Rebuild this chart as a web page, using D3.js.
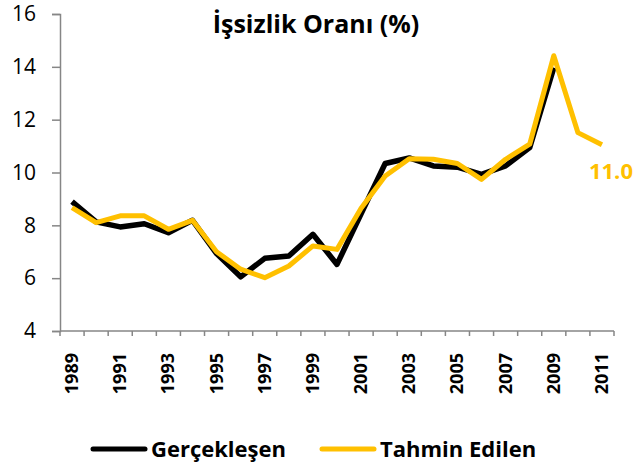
<!DOCTYPE html>
<html>
<head>
<meta charset="utf-8">
<script src="https://cdn.jsdelivr.net/npm/d3@7"></script>
<style>
  body { margin: 0; background: #fff; }
  text { font-family: "Open Sans", sans-serif; }
</style>
</head>
<body>
<div id="chart"></div>
<script>
var years = ["1989","1990","1991","1992","1993","1994","1995","1996","1997","1998","1999","2000",
             "2001","2002","2003","2004","2005","2006","2007","2008","2009","2010","2011"]
// Gerçekleşen (actual), ends in 2009
var actual = [8.9, 8.13, 7.94, 8.06, 7.72, 8.19, 6.93, 6.05, 6.75, 6.84, 7.66, 6.52,
              8.44, 10.34, 10.55, 10.25, 10.2, 9.93, 10.25, 10.94, 13.97]
// Tahmin Edilen (forecast)
var forecast = [8.67, 8.1, 8.36, 8.36, 7.85, 8.19, 7.0, 6.34, 6.02, 6.46, 7.22, 7.09,
                8.65, 9.87, 10.52, 10.5, 10.34, 9.74, 10.5, 11.07, 14.42, 11.51, 11.05]
var yTicks = [4, 6, 8, 10, 12, 14, 16]
var seriesNames = ["Gerçekleşen", "Tahmin Edilen"]
var lastLabel = "11.0"

var width = 635,
    height = 467

var yellow = "#FFC000",
    axisGray = "#868686"

var svg = d3.select("#chart")
    .append("svg")
    .attr("width", width)
    .attr("height", height)

var x = d3.scaleBand()
    .domain(years)
    .range([60, 614])

var y = d3.scaleLinear()
    .domain([4, 16])
    .range([331, 14])

// y axis
var yAxis = svg.append("g")
    .attr("transform", "translate(60,0)")
    .call(d3.axisLeft(y).tickValues(yTicks).tickSize(8).tickPadding(16))
yAxis.select(".domain").attr("stroke", axisGray).attr("stroke-width", 1.5)
yAxis.selectAll(".tick line").attr("stroke", axisGray).attr("stroke-width", 1.5)
yAxis.selectAll(".tick text")
    .attr("fill", "#000")
    .style("font-size", "21px")

// x axis: ticks between categories
var xAxis = svg.append("g")
    .attr("transform", "translate(0," + y(4) + ")")
xAxis.append("line")
    .attr("x1", x.range()[0]).attr("x2", x.range()[1])
    .attr("stroke", axisGray).attr("stroke-width", 1.5)
var bounds = years.map(function (d) { return x(d) }).concat([x.range()[1]])
xAxis.selectAll("tickmark")
    .data(bounds)
    .enter()
    .append("line")
    .attr("x1", function (d) { return d })
    .attr("x2", function (d) { return d })
    .attr("y1", 0).attr("y2", 5)
    .attr("stroke", axisGray).attr("stroke-width", 1.5)
xAxis.selectAll("yearlabel")
    .data(years.filter(function (d, i) { return i % 2 === 0 }))
    .enter()
    .append("text")
    .attr("transform", function (d) {
        return "translate(" + (x(d) + x.bandwidth() / 2 + 6) + ",22) rotate(-90)"
    })
    .attr("text-anchor", "end")
    .style("font-size", "18px")
    .style("font-weight", "bold")
    .text(function (d) { return d })

// lines
var line = d3.line()
    .x(function (d, i) { return x(years[i]) + x.bandwidth() / 2 })
    .y(function (d) { return y(d) })

svg.append("path")
    .datum(actual)
    .attr("d", line)
    .attr("fill", "none")
    .attr("stroke", "#000")
    .attr("stroke-width", 5.5)
    .attr("stroke-linejoin", "round")

svg.append("path")
    .datum(forecast)
    .attr("d", line)
    .attr("fill", "none")
    .attr("stroke", yellow)
    .attr("stroke-width", 5)
    .attr("stroke-linejoin", "round")

// data label on last forecast point
var lastI = forecast.length - 1
svg.append("text")
    .attr("x", x(years[lastI]) + x.bandwidth() / 2 - 13)
    .attr("y", y(forecast[lastI]) + 34)
    .attr("fill", yellow)
    .style("font-size", "22px")
    .style("font-weight", "bold")
    .text(lastLabel)

// title
svg.append("text")
    .attr("x", 316)
    .attr("y", 33)
    .attr("text-anchor", "middle")
    .style("font-size", "25px")
    .style("font-weight", "bold")
    .text("İşsizlik Oranı (%)")

// legend
var legend = [
    { name: seriesNames[0], color: "#000", x: 93 },
    { name: seriesNames[1], color: yellow, x: 322 }
]
var lg = svg.selectAll("legenditem")
    .data(legend)
    .enter()
    .append("g")
    .attr("transform", function (d) { return "translate(" + d.x + ",449)" })
lg.append("line")
    .attr("x1", 0).attr("x2", 52)
    .attr("stroke", function (d) { return d.color })
    .attr("stroke-width", 5)
    .attr("stroke-linecap", "round")
lg.append("text")
    .attr("x", 58)
    .attr("y", 8)
    .style("font-size", "22px")
    .style("font-weight", "bold")
    .text(function (d) { return d.name })
</script>
</body>
</html>
